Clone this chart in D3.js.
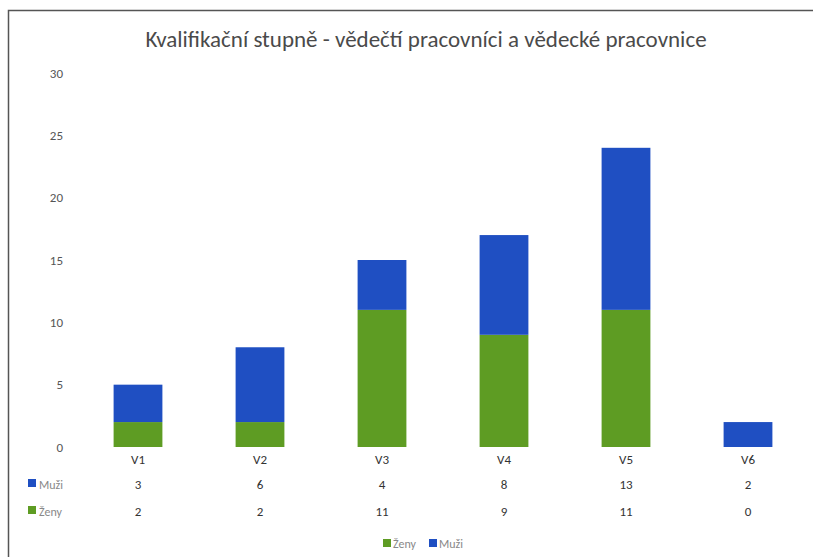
<!DOCTYPE html>
<html>
<head>
<meta charset="utf-8">
<script src="https://cdn.jsdelivr.net/npm/d3@7"></script>
<style>
  body { margin: 0; background: #fff; }
  text { font-family: Carlito, Calibri, "Open Sans", sans-serif; }
</style>
</head>
<body>
<div id="wrapper"></div>
<script>
// data
const categories = ["V1", "V2", "V3", "V4", "V5", "V6"]
const zeny = [2, 2, 11, 9, 11, 0]
const muzi = [3, 6, 4, 8, 13, 2]
const yTicks = [0, 5, 10, 15, 20, 25, 30]
const seriesNames = ["Ženy", "Muži"]
const colors = { "Ženy": "#5e9c23", "Muži": "#1f4fc2" }

function drawChart() {
  const dimensions = {
    width: 813,
    height: 557,
    margin: { top: 73, right: 4, bottom: 110, left: 77 },
  }
  dimensions.boundedWidth = dimensions.width - dimensions.margin.left - dimensions.margin.right
  dimensions.boundedHeight = dimensions.height - dimensions.margin.top - dimensions.margin.bottom

  const rows = categories.map((c, i) => ({ cat: c, "Ženy": zeny[i], "Muži": muzi[i] }))
  const stacked = d3.stack().keys(seriesNames)(rows)

  const xScale = d3.scaleBand()
    .domain(categories)
    .range([0, dimensions.boundedWidth])
    .paddingInner(0.6)
    .paddingOuter(0.3)

  const yScale = d3.scaleLinear()
    .domain([0, 30])
    .range([dimensions.boundedHeight, 0])

  const svg = d3.select("#wrapper").append("svg")
    .attr("width", dimensions.width)
    .attr("height", dimensions.height)

  // chart frame (only top and left edges show)
  svg.append("path")
    .attr("d", "M8.5,557V10.5H813")
    .attr("fill", "none")
    .attr("stroke", "#555")
    .attr("stroke-width", 1.5)

  svg.append("text")
    .attr("x", 426)
    .attr("y", 47)
    .attr("text-anchor", "middle")
    .attr("font-size", 23)
    .attr("fill", "#4a4a4a")
    .text("Kvalifikační stupně - vědečtí pracovníci a vědecké pracovnice")

  const bounds = svg.append("g")
    .attr("transform", `translate(${dimensions.margin.left},${dimensions.margin.top})`)

  // y axis labels
  const yAxis = d3.axisLeft(yScale).tickValues(yTicks).tickSize(0).tickPadding(14)
  bounds.append("g")
    .call(yAxis)
    .call(g => g.select(".domain").remove())
    .call(g => g.selectAll("text")
      .attr("font-size", 13)
      .attr("fill", "#555")
      .attr("font-family", "Carlito, Calibri, 'Open Sans', sans-serif"))

  // bars
  bounds.selectAll(".series")
    .data(stacked)
    .join("g")
      .attr("fill", d => colors[d.key])
    .selectAll("rect")
    .data(d => d)
    .join("rect")
      .attr("x", d => xScale(d.data.cat))
      .attr("y", d => yScale(d[1]))
      .attr("width", xScale.bandwidth())
      .attr("height", d => yScale(d[0]) - yScale(d[1]))

  // category labels + data table
  const xAxis = d3.axisBottom(xScale).tickSize(0).tickPadding(8)
  bounds.append("g")
    .attr("transform", `translate(0,${dimensions.boundedHeight})`)
    .call(xAxis)
    .call(g => g.select(".domain").remove())
    .call(g => g.selectAll("text")
      .attr("font-size", 13)
      .attr("fill", "#333")
      .attr("font-family", "Carlito, Calibri, 'Open Sans', sans-serif"))

  const tableRows = [
    { name: "Muži", values: muzi, y: dimensions.boundedHeight + 42 },
    { name: "Ženy", values: zeny, y: dimensions.boundedHeight + 69 },
  ]
  tableRows.forEach(r => {
    const g = bounds.append("g")
    g.selectAll("text.val")
      .data(r.values)
      .join("text")
        .attr("class", "val")
        .attr("x", (d, i) => xScale(categories[i]) + xScale.bandwidth() / 2)
        .attr("y", r.y)
        .attr("text-anchor", "middle")
        .attr("font-size", 13)
        .attr("fill", "#333")
        .text(d => d)
    g.append("rect")
      .attr("x", -49)
      .attr("y", r.y - 10)
      .attr("width", 8)
      .attr("height", 8)
      .attr("fill", colors[r.name])
    g.append("text")
      .attr("x", -38)
      .attr("y", r.y)
      .attr("font-size", 12)
      .attr("fill", "#888")
      .text(r.name)
  })

  // legend
  const legend = svg.append("g").attr("transform", "translate(383,548)")
  const items = legend.selectAll("g")
    .data(seriesNames)
    .join("g")
      .attr("transform", (d, i) => `translate(${i * 46},0)`)
  items.append("rect")
    .attr("y", -9)
    .attr("width", 8)
    .attr("height", 8)
    .attr("fill", d => colors[d])
  items.append("text")
    .attr("x", 10)
    .attr("font-size", 12)
    .attr("fill", "#888")
    .text(d => d)
}

drawChart()
</script>
</body>
</html>
